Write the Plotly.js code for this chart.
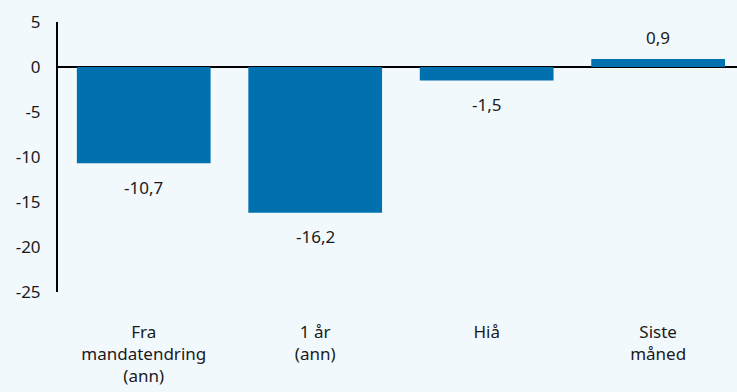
<!DOCTYPE html>
<html>
<head>
<meta charset="utf-8">
<script src="https://cdn.plot.ly/plotly-3.0.1.min.js"></script>
<style>html,body{margin:0;padding:0;background:#f2f9fd;}#chart{width:737px;height:392px;}</style>
</head>
<body>
<div id="chart"></div>
<script>
const categories = ["Fra<br>mandatendring<br>(ann)", "1 år<br>(ann)", "Hiå", "Siste<br>måned"];
const values = [-10.7, -16.2, -1.5, 0.9];
const yTickVals = [5, 0, -5, -10, -15, -20, -25];
const yTickText = ["5", "0", "-5", "-10", "-15", "-20", "-25"];

const fmt = v => v.toFixed(1).replace('.', ',');
const xIdx = categories.map((c, i) => i);

const trace = {
  type: 'bar',
  x: xIdx,
  y: values,
  width: 0.78,
  marker: {color: '#0071ae'},
  hoverinfo: 'skip'
};

const annotations = values.map((v, i) => ({
  x: i, y: v, xref: 'x', yref: 'y',
  text: fmt(v), showarrow: false,
  yshift: v < 0 ? -24 : 21,
  font: {family: 'Noto Sans, sans-serif', size: 17, color: '#1a1a1a'}
}));

const layout = {
  width: 737, height: 392,
  margin: {l: 58, r: 0, t: 22, b: 100},
  paper_bgcolor: '#f2f9fd',
  plot_bgcolor: '#f2f9fd',
  showlegend: false,
  font: {family: 'Noto Sans, sans-serif', size: 17, color: '#1a1a1a'},
  xaxis: {
    range: [-0.5, 3.46],
    tickvals: xIdx,
    ticktext: categories,
    showgrid: false, zeroline: false, showline: false,
    ticks: '', ticklabelstandoff: 28,
    fixedrange: true
  },
  yaxis: {
    range: [-25, 5],
    tickvals: yTickVals,
    ticktext: yTickText,
    showgrid: false,
    zeroline: true, zerolinecolor: '#000', zerolinewidth: 2,
    showline: true, linecolor: '#000', linewidth: 2,
    ticks: '', ticklabelstandoff: 12,
    fixedrange: true
  },
  annotations: annotations
};

Plotly.newPlot('chart', [trace], layout, {displayModeBar: false, staticPlot: true});
</script>
</body>
</html>
